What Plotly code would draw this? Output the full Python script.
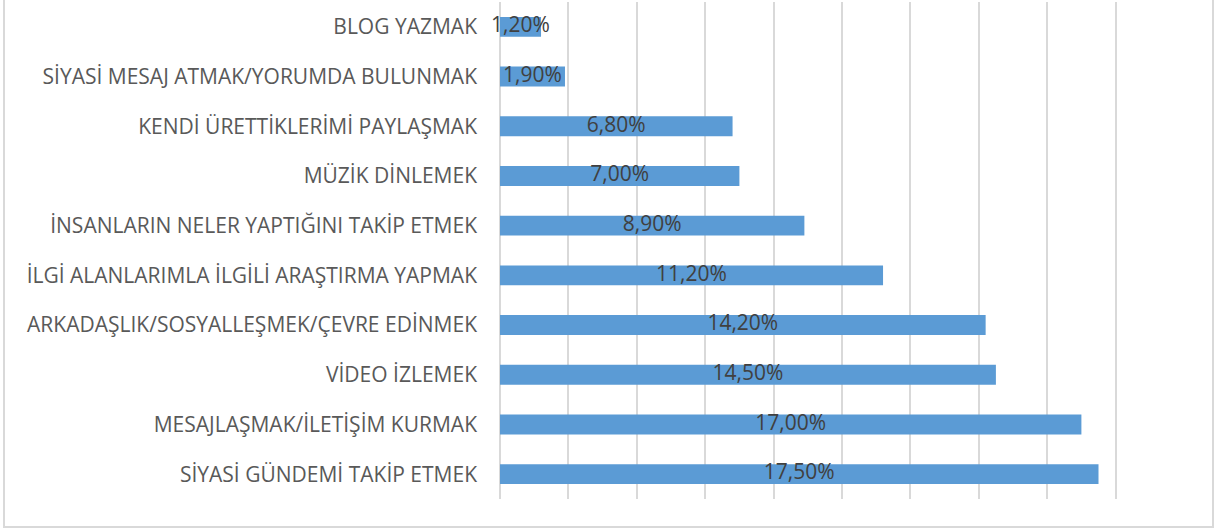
import plotly.graph_objects as go

categories = [
    "BLOG YAZMAK",
    "SİYASİ MESAJ ATMAK/YORUMDA BULUNMAK",
    "KENDİ ÜRETTİKLERİMİ PAYLAŞMAK",
    "MÜZİK DİNLEMEK",
    "İNSANLARIN NELER YAPTIĞINI TAKİP ETMEK",
    "İLGİ ALANLARIMLA İLGİLİ ARAŞTIRMA YAPMAK",
    "ARKADAŞLIK/SOSYALLEŞMEK/ÇEVRE EDİNMEK",
    "VİDEO İZLEMEK",
    "MESAJLAŞMAK/İLETİŞİM KURMAK",
    "SİYASİ GÜNDEMİ TAKİP ETMEK",
]
values = [1.2, 1.9, 6.8, 7.0, 8.9, 11.2, 14.2, 14.5, 17.0, 17.5]
labels = [f"{v:.2f}%".replace(".", ",") for v in values]

W, H = 1214, 532
L, R, T, B = 500, 30, 2, 33
pw, ph = W - L - R, H - T - B

fig = go.Figure()
fig.add_trace(go.Bar(
    y=categories, x=values, orientation="h",
    marker=dict(color="#5B9BD5", line=dict(width=0)),
    width=0.4, hoverinfo="skip",
))
fig.add_trace(go.Scatter(
    y=categories, x=[v / 2 for v in values], mode="text",
    text=labels, textposition="middle center",
    textfont=dict(family="Open Sans", size=21, color="#404040"),
    hoverinfo="skip", cliponaxis=False,
))

def px(x):
    return (x - L) / pw

def py(y):
    return (H - B - y) / ph

fig.add_shape(type="rect", xref="paper", yref="paper",
              x0=px(4), x1=px(1213), y0=py(527), y1=py(-3),
              line=dict(color="#D9D9D9", width=2), layer="below")

fig.update_layout(
    width=W, height=H,
    margin=dict(l=L, r=R, t=T, b=B, pad=0),
    paper_bgcolor="white", plot_bgcolor="white",
    showlegend=False,
    xaxis=dict(range=[0, 20], dtick=2, showticklabels=False,
               showgrid=True, gridcolor="#D9D9D9", gridwidth=1.5,
               zeroline=True, zerolinecolor="#D9D9D9", zerolinewidth=1.5,
               showline=False, fixedrange=True),
    yaxis=dict(categoryorder="array", categoryarray=categories[::-1],
               autorange=True,
               tickfont=dict(family="Open Sans", size=21, color="#595959"),
               ticklabelstandoff=22, showgrid=False, showline=False,
               ticks="", fixedrange=True, automargin=False),
)
fig.write_html(
    "out.html",
    config={"displayModeBar": False},
    post_script="document.body.style.margin='0';document.body.style.overflow='hidden';",
)
